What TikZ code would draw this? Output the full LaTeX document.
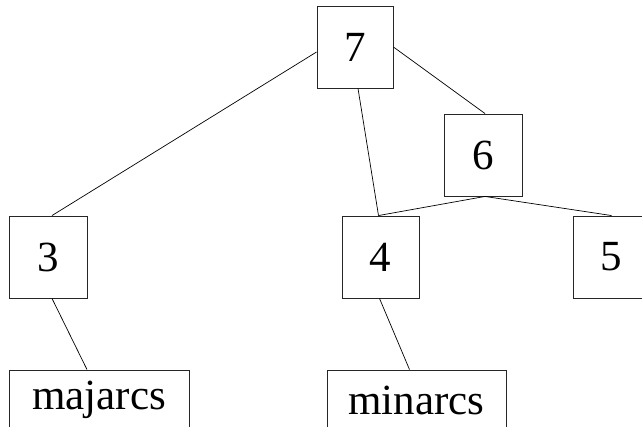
\documentclass[tikz,border=0pt]{standalone}
\usepackage{fontspec}
\setmainfont{Liberation Serif}
\usetikzlibrary{calc}
\begin{document}
\begin{tikzpicture}[x=1pt,y=1pt,
  box/.style={draw=black!85,line width=0.9pt,inner sep=0pt,minimum height=82pt,
    font=\fontsize{43}{50}\selectfont},
  leaf/.style={draw=black!85,line width=0.9pt,inner sep=0pt,minimum height=60pt,
    font=\fontsize{43}{50}\selectfont},
  edge/.style={draw=black,line width=0.7pt}]
\useasboundingbox (0,0) rectangle (642,426);
\node[box,minimum width=76pt] (n7) at (355,379) {7};
\node[box,minimum width=78pt] (n6) at (483,271) {6};
\node[box,minimum width=78pt] (n3) at (48,169) {3};
\node[box,minimum width=77pt] (n4) at (380.5,169) {4};
\node[box,minimum width=77pt] (n5) at (611.5,169) {5};
\node[leaf,minimum width=180pt] (maj) at (99,26) {majarcs};
\node[leaf,minimum width=179pt] (min) at (416.5,26) {minarcs};
\draw[edge] ($(n7.west)+(0,-5)$) -- ($(n3.north)+(4,0)$);
\draw[edge] ($(n7.south)+(3,0)$) -- ($(n4.north)+(-2,0)$);
\draw[edge] (n7.east) -- ($(n6.north)+(2,0)$);
\draw[edge] ($(n6.south)+(2,0)$) -- ($(n4.north)+(-2,0)$);
\draw[edge] ($(n6.south)+(2,0)$) -- (n5.north);
\draw[edge] ($(n3.south)+(4,0)$) -- ($(maj.north)+(-12,0)$);
\draw[edge] ($(n4.south)+(-1,0)$) -- ($(min.north)+(-7,0)$);
\end{tikzpicture}
\end{document}
